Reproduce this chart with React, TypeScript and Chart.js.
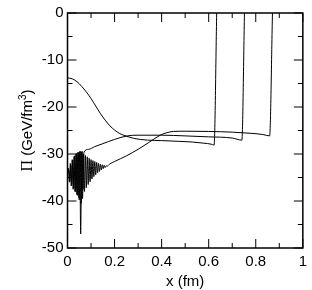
import React, { useEffect, useRef } from "react";
import { Chart, registerables } from "chart.js";

Chart.register(...registerables);

// ---- data ----
const xTickValues = [0, 0.2, 0.4, 0.6, 0.8, 1];
const yTickValues = [0, -10, -20, -30, -40, -50];
const xMinorTicks = [0.1, 0.3, 0.5, 0.7, 0.9];
const yMinorTicks = [-5, -15, -25, -35, -45];

// curve starting near -14, spike at ~0.63
const curveAX = [0, 0.02, 0.04, 0.06, 0.08, 0.1, 0.12, 0.14, 0.16, 0.18, 0.2, 0.22, 0.25, 0.28, 0.31, 0.34, 0.4, 0.47, 0.53, 0.58, 0.61, 0.623, 0.634];
const curveAY = [-13.8, -14.0, -14.6, -15.6, -16.8, -18.2, -19.8, -21.4, -22.8, -24.0, -24.9, -25.6, -26.2, -26.65, -26.9, -27.05, -27.15, -27.3, -27.45, -27.7, -27.9, -28.1, 0];

// curve with short oscillation, spike at ~0.75
const curveBX = [0.002, 0.006, 0.01, 0.014, 0.018, 0.022, 0.026, 0.03, 0.034, 0.038, 0.042, 0.046, 0.05, 0.054, 0.058, 0.062, 0.066, 0.07, 0.09, 0.115, 0.15, 0.2, 0.254, 0.3, 0.4, 0.5, 0.6, 0.7, 0.741, 0.752];
const curveBY = [-34.0, -33.5, -35.8, -32.4, -36.5, -31.3, -37.3, -30.4, -38.0, -29.9, -38.8, -29.6, -39.8, -29.4, -40.5, -29.4, -37.5, -29.6, -29.0, -28.45, -27.8, -26.9, -26.15, -26.0, -26.0, -26.15, -26.35, -26.6, -27.05, 0];

// curve with long oscillation, spike at ~0.87
const curveCX = [0, 0.004, 0.008, 0.012, 0.016, 0.02, 0.024, 0.028, 0.032, 0.036, 0.04, 0.044, 0.048, 0.052, 0.056, 0.06, 0.064, 0.068, 0.072, 0.076, 0.08, 0.084, 0.088, 0.092, 0.096, 0.1, 0.104, 0.108, 0.112, 0.116, 0.12, 0.124, 0.128, 0.132, 0.136, 0.14, 0.144, 0.148, 0.152, 0.156, 0.16, 0.164, 0.168, 0.18, 0.2, 0.25, 0.3, 0.35, 0.394, 0.42, 0.45, 0.5, 0.6, 0.7, 0.78, 0.83, 0.859, 0.871];
const curveCY = [-35.0, -33.0, -36.0, -32.0, -36.8, -31.2, -37.5, -30.5, -38.0, -30.0, -38.6, -29.7, -39.3, -29.5, -47.0, -29.6, -39.5, -30.0, -38.0, -30.3, -37.2, -30.6, -36.5, -30.9, -35.9, -31.2, -35.3, -31.4, -34.8, -31.6, -34.4, -31.8, -34.0, -32.0, -33.7, -32.2, -33.4, -32.3, -33.1, -32.4, -32.9, -32.5, -32.6, -32.1, -31.6, -30.4, -29.0, -27.4, -26.0, -25.5, -25.2, -25.15, -25.2, -25.35, -25.6, -25.85, -26.15, 0];

const toPoints = (xs: number[], ys: number[]) => xs.map((x, i) => ({ x, y: ys[i] }));

const framePlugin = {
  id: "frameTicks",
  afterDraw(chart: any) {
    const { ctx, chartArea } = chart;
    const { left, right, top, bottom } = chartArea;
    const xs = chart.scales.x;
    const ys = chart.scales.y;
    ctx.save();
    ctx.strokeStyle = "#000";
    ctx.lineWidth = 1;
    ctx.beginPath();
    const drawX = (v: number, len: number) => {
      const px = xs.getPixelForValue(v);
      ctx.moveTo(px, bottom);
      ctx.lineTo(px, bottom - len);
      ctx.moveTo(px, top);
      ctx.lineTo(px, top + len);
    };
    const drawY = (v: number, len: number) => {
      const py = ys.getPixelForValue(v);
      ctx.moveTo(left, py);
      ctx.lineTo(left + len, py);
      ctx.moveTo(right, py);
      ctx.lineTo(right - len, py);
    };
    xTickValues.forEach((v) => drawX(v, 9));
    xMinorTicks.forEach((v) => drawX(v, 5));
    yTickValues.forEach((v) => drawY(v, 9));
    yMinorTicks.forEach((v) => drawY(v, 5));
    ctx.stroke();
    ctx.lineWidth = 1.5;
    ctx.strokeRect(left, top, right - left, bottom - top);

    // axis titles
    ctx.fillStyle = "#000";
    ctx.textBaseline = "alphabetic";
    ctx.textAlign = "left";
    ctx.font = "15px 'Liberation Sans'";
    const xt = "x (fm)";
    const xw = ctx.measureText(xt).width;
    ctx.fillText(xt, (left + right) / 2 - xw / 2, 286);

    const parts = [
      { t: "\u03a0", f: "16px 'Liberation Serif'", dy: 0 },
      { t: " (GeV/fm", f: "15px 'Liberation Sans'", dy: 0 },
      { t: "3", f: "10px 'Liberation Sans'", dy: -6 },
      { t: ")", f: "15px 'Liberation Sans'", dy: 0 },
    ];
    let total = 0;
    const widths = parts.map((p) => {
      ctx.font = p.f;
      const w = ctx.measureText(p.t).width;
      total += w;
      return w;
    });
    ctx.translate(32, (top + bottom) / 2);
    ctx.rotate(-Math.PI / 2);
    let cx = -total / 2;
    parts.forEach((p, i) => {
      ctx.font = p.f;
      ctx.fillText(p.t, cx, p.dy);
      cx += widths[i];
    });
    ctx.restore();
  },
};

export default function App() {
  const ref = useRef<HTMLCanvasElement | null>(null);
  useEffect(() => {
    document.body.style.margin = "0";
    if (!ref.current) return;
    const lineStyle = {
      borderColor: "#000",
      borderWidth: 1,
      pointRadius: 0,
      fill: false,
      cubicInterpolationMode: "monotone" as const,
    };
    const chart = new Chart(ref.current, {
      type: "line",
      data: {
        datasets: [
          { ...lineStyle, data: toPoints(curveAX, curveAY) },
          { ...lineStyle, data: toPoints(curveBX, curveBY) },
          { ...lineStyle, data: toPoints(curveCX, curveCY) },
        ],
      },
      options: {
        animation: false,
        responsive: true,
        maintainAspectRatio: false,
        layout: { padding: { left: 0, top: 9, right: 5, bottom: 0 } },
        plugins: { legend: { display: false }, tooltip: { enabled: false } },
        scales: {
          x: {
            type: "linear",
            min: 0,
            max: 1,
            afterBuildTicks: (s: any) => {
              s.ticks = xTickValues.map((v) => ({ value: v }));
            },
            afterFit: (s: any) => {
              s.height = 42;
            },
            grid: { display: false, drawTicks: false },
            border: { display: false },
            ticks: {
              color: "#000",
              padding: 5,
              maxRotation: 0,
              font: { family: "'Liberation Sans'", size: 15 },
              callback: (v: any) => String(v),
            },
          },
          y: {
            type: "linear",
            min: -50,
            max: 0,
            afterBuildTicks: (s: any) => {
              s.ticks = yTickValues.map((v) => ({ value: v }));
            },
            afterFit: (s: any) => {
              s.width = 67.5;
            },
            grid: { display: false, drawTicks: false },
            border: { display: false },
            ticks: {
              color: "#000",
              padding: 4,
              font: { family: "'Liberation Sans'", size: 15 },
              callback: (v: any) => String(v),
            },
          },
        },
      },
      plugins: [framePlugin],
    });
    return () => chart.destroy();
  }, []);
  return (
    <div style={{ position: "absolute", left: 0, top: 0, width: 312, height: 290 }}>
      <canvas ref={ref} />
    </div>
  );
}
